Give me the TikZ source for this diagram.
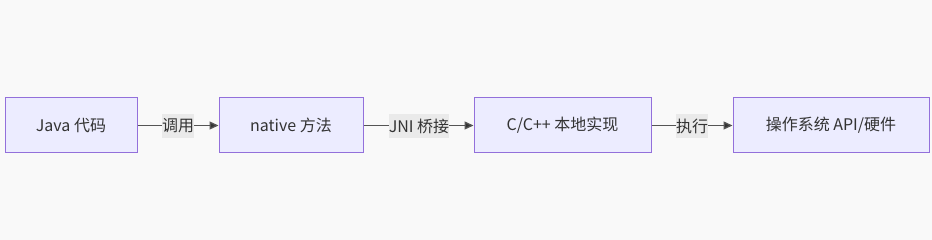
\documentclass[tikz,border=0pt]{standalone}
\usepackage{fontspec}
\setmainfont{Noto Sans CJK SC}
\usetikzlibrary{arrows.meta}
\definecolor{bgc}{HTML}{F9F9F9}
\definecolor{boxfill}{HTML}{ECECFF}
\definecolor{boxline}{HTML}{9370DB}
\definecolor{txt}{HTML}{333333}
\definecolor{edge}{HTML}{555555}
\definecolor{lblbg}{HTML}{EAEAEA}
\tikzset{
  stepbox/.style={draw=boxline, line width=1pt, fill=boxfill, text=txt, minimum height=55pt, inner sep=0pt, font=\fontsize{16}{19}\selectfont},
  lbl/.style={fill=lblbg, text=txt, inner sep=0pt, minimum height=24pt, font=\fontsize{16}{19}\selectfont},
  conn/.style={draw=edge, line width=1.3pt, -{Triangle[length=9pt,width=8pt,fill=txt]}}
}
\begin{document}
\begin{tikzpicture}[x=1pt,y=-1pt]
\fill[bgc] (0,0) rectangle (932,240);
\useasboundingbox (0,0) rectangle (932,240);
\node[stepbox, minimum width=132pt] (a) at (71,125.5) {Java 代码};
\node[stepbox, minimum width=144pt] (b) at (291,125.5) {native 方法};
\node[stepbox, minimum width=177pt] (c) at (562.5,125.5) {C/C++ 本地实现};
\node[stepbox, minimum width=196pt] (d) at (831,125.5) {操作系统 API/硬件};
\draw[conn] (a.east) -- (b.west);
\draw[conn] (b.east) -- (c.west);
\draw[conn] (c.east) -- (d.west);
\node[lbl, minimum width=32pt] (l1) at (178,126) {调用};
\node[lbl, minimum width=60pt] (l2) at (419,126) {JNI 桥接};
\node[lbl, minimum width=32pt] (l3) at (692,126) {执行};
\end{tikzpicture}
\end{document}
